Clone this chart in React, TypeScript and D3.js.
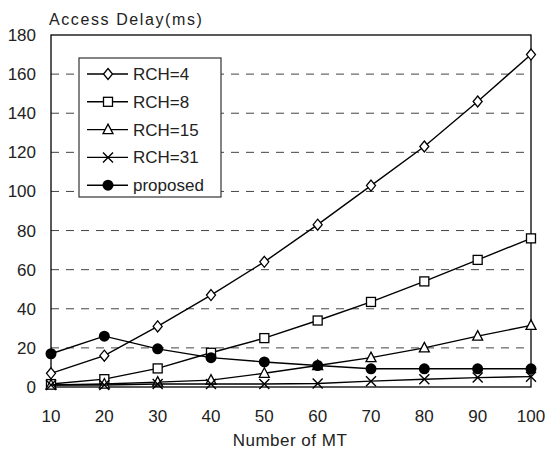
import React from "react";
import * as d3 from "d3";

const xValues = [10, 20, 30, 40, 50, 60, 70, 80, 90, 100];
const rch4 = [7, 16, 31, 47, 64, 83, 103, 123, 146, 170];
const rch8 = [1.5, 4, 9.5, 17.5, 25, 34, 43.5, 54, 65, 76];
const rch15 = [1, 1.5, 2.5, 3.5, 7, 11, 15, 20, 26, 31.5];
const rch31 = [1, 1, 1.5, 1.5, 1.5, 1.8, 3, 4, 4.8, 5.3];
const proposed = [17, 26, 19.5, 15, 12.8, 11, 9.3, 9.3, 9.3, 9.3];
const yTicks = [0, 20, 40, 60, 80, 100, 120, 140, 160, 180];
const seriesNames = ["RCH=4", "RCH=8", "RCH=15", "RCH=31", "proposed"];
const seriesData = [rch4, rch8, rch15, rch31, proposed];
const markers = ["diamond", "square", "triangle", "cross", "circle"];

const FONT = "'Liberation Sans', Arial, sans-serif";

function Marker({ type, x, y }: { type: string; x: number; y: number }) {
  const s = "#000";
  if (type === "diamond")
    return <path d={`M${x},${y - 5.5}L${x + 4.5},${y}L${x},${y + 5.5}L${x - 4.5},${y}Z`} fill="#fff" stroke={s} strokeWidth={1.3} />;
  if (type === "square")
    return <rect x={x - 4.5} y={y - 4.5} width={9} height={9} fill="#fff" stroke={s} strokeWidth={1.3} />;
  if (type === "triangle")
    return <path d={`M${x},${y - 5.5}L${x + 5},${y + 4}L${x - 5},${y + 4}Z`} fill="#fff" stroke={s} strokeWidth={1.3} />;
  if (type === "cross")
    return <path d={`M${x - 5},${y - 5}L${x + 5},${y + 5}M${x + 5},${y - 5}L${x - 5},${y + 5}`} stroke={s} strokeWidth={1.4} />;
  return <circle cx={x} cy={y} r={5.5} fill="#000" />;
}

export default function App() {
  const W = 545, H = 450;
  const left = 51, right = 531, top = 35, bottom = 387;
  const x = d3.scaleLinear().domain([10, 100]).range([left, right]);
  const y = d3.scaleLinear().domain([0, 180]).range([bottom, top]);
  const line = d3.line<number>().x((_, i) => x(xValues[i])).y((d) => y(d));

  const legX = 79, legY = 58, legW = 142, legH = 139;
  const rowH = 27.8;

  return (
    <svg width={W} height={H} style={{ position: "absolute", left: 0, top: 0, background: "#fff" }} fontFamily={FONT}>
      <rect width={W} height={H} fill="#fff" />
      {yTicks.filter((t) => t > 0 && t < 180).map((t) => (
        <line key={t} x1={left} x2={right} y1={y(t)} y2={y(t)} stroke="#444" strokeWidth={1} strokeDasharray="8,7" />
      ))}
      <rect x={left} y={top} width={right - left} height={bottom - top} fill="none" stroke="#000" strokeWidth={1.3} />
      {yTicks.map((t) => (
        <text key={t} x={36} y={y(t) + 6} textAnchor="end" fontSize={17} fill="#222">{t}</text>
      ))}
      {xValues.map((v) => (
        <text key={v} x={x(v)} y={422} textAnchor="middle" fontSize={17} fill="#222">{v}</text>
      ))}
      <text x={290} y={446} textAnchor="middle" fontSize={17} letterSpacing={0.5} fill="#222">Number of MT</text>
      <text x={49} y={25} fontSize={16} letterSpacing={1.6} fill="#222">Access Delay(ms)</text>
      {seriesData.map((d, si) => (
        <g key={si}>
          <path d={line(d) || ""} fill="none" stroke="#000" strokeWidth={1.4} />
          {d.map((v, i) => (
            <Marker key={i} type={markers[si]} x={x(xValues[i])} y={y(v)} />
          ))}
        </g>
      ))}
      <rect x={legX} y={legY} width={legW} height={legH} fill="#fff" stroke="#333" strokeWidth={1.2} />
      {seriesNames.map((n, i) => {
        const cy = legY + 16 + i * rowH;
        return (
          <g key={n}>
            <line x1={87} x2={128} y1={cy} y2={cy} stroke="#000" strokeWidth={1.4} />
            <Marker type={markers[i]} x={108} y={cy} />
            <text x={133} y={cy + 6} fontSize={17} fill="#222">{n}</text>
          </g>
        );
      })}
    </svg>
  );
}
